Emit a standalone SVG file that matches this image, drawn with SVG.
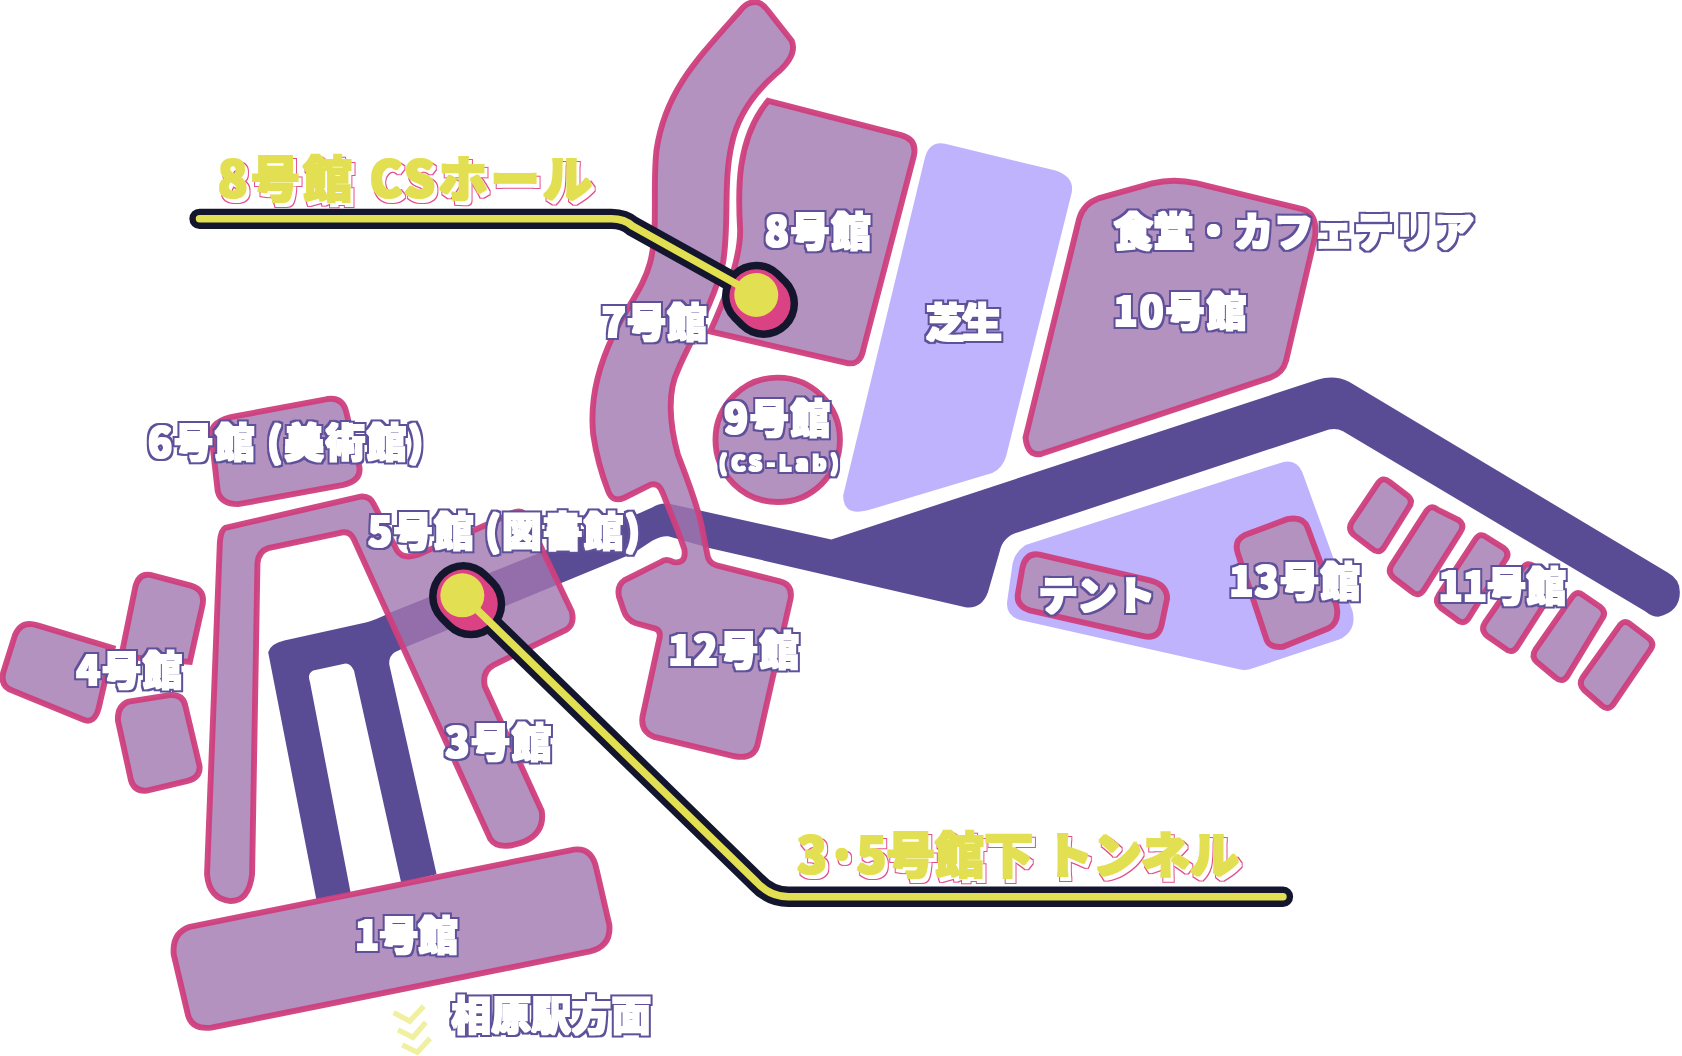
<svg xmlns="http://www.w3.org/2000/svg" width="1682" height="1056" viewBox="0 0 1682 1056">
<defs>
<style>
.b{fill:#a177b0;fill-opacity:.8;stroke:#cf3f7d;stroke-opacity:.95;stroke-width:5.500}
.solid{fill:#b492c0;fill-opacity:1}
.road{fill:#5a4c94}
.lawn{fill:#bfb3fd}
text{font-family:"Noto Sans CJK JP","Noto Sans",sans-serif;font-weight:900}
.l{fill:#fff;font-size:37px;filter:url(#fl)}
.y{fill:#e3df52;font-size:46px;filter:url(#fy)}
.s{font-size:20px}
.ld{fill:none;stroke:#14162e;stroke-width:19;stroke-linecap:round;stroke-linejoin:round}
.li{fill:none;stroke:#e3df52;stroke-width:7;stroke-linecap:round;stroke-linejoin:round}
.cv{fill:none;stroke:#f1f0a0;stroke-width:5}
</style>
<filter id="fl" x="-15%" y="-30%" width="130%" height="170%" color-interpolation-filters="sRGB">
<feMorphology in="SourceAlpha" operator="dilate" radius="0.900" result="a"/>
<feMorphology in="SourceAlpha" operator="dilate" radius="3" result="b"/>
<feFlood flood-color="#5e5099"/><feComposite in2="b" operator="in" result="p"/>
<feFlood flood-color="#fff"/><feComposite in2="a" operator="in" result="w"/>
<feMerge><feMergeNode in="p"/><feMergeNode in="w"/></feMerge>
</filter>
<filter id="fy" x="-10%" y="-30%" width="120%" height="170%" color-interpolation-filters="sRGB">
<feMorphology in="SourceAlpha" operator="dilate" radius="1.200" result="a"/>
<feOffset in="SourceAlpha" dx="2.500" dy="3.500" result="o"/>
<feMorphology in="o" operator="dilate" radius="1.200" result="o1"/>
<feMorphology in="o" operator="dilate" radius="2.200" result="o2"/>
<feFlood flood-color="#e2508c"/><feComposite in2="o2" operator="in" result="p"/>
<feFlood flood-color="#fff"/><feComposite in2="o1" operator="in" result="w"/>
<feFlood flood-color="#e3df52"/><feComposite in2="a" operator="in" result="g"/>
<feMerge><feMergeNode in="p"/><feMergeNode in="w"/><feMergeNode in="g"/></feMerge>
</filter>
</defs>
<g transform="scale(1.0727)">
<g id="grounds">
<path id="lawn-main" class="lawn" d="M881,134 L984,159 Q1002,165 999,180 L938,425 Q935,436 925,441 L808,476 Q786,481 786,462 L862,148 Q866,131 881,134 Z"/>
<path id="lawn-tent" class="lawn" d="M1192,432 Q1208,426 1214,440 L1261,570 Q1265,588 1249,596 L1165,624 Q1160,625 1155,624 L951,578 Q937,574 939,560 L944,525 Q946,515 956,508 Z"/>
<path id="road" class="road" d="M250,608 Q252,600 265,597 L342,580 Q350,578 364,571 L597,478 L608,473 Q616,468 626,470 L775,503 L1228,354 Q1244,349 1258,356 L1555,534 Q1566,540 1566,552 Q1566,570 1546,575 Q1540,575 1534,570 L1252,402 Q1244,398 1234,402 L950,496 Q935,500 932,514 L921,552 Q915,568 900,566 L662,511 L623,500 Q618,499 608,504 L590,516 L379,603 L368,608 Q362,612 363,620 L407,815 L374,823 L330,625 Q326,617 320,619 L292,625 Q286,628 289,636 L327,833 L295,839 Z"/>
</g>
<g id="b7-12">
<path class="b" d="M704,2 Q696,2 690,10 C650,55 620,85 612,140 C608,175 614,215 606,245 C600,268 585,285 572,312 C556,345 550,375 553,405 C556,425 562,445 567,458 Q571,469 582,464 L606,452 Q614,449 618,460 L632,495 L638,512 Q640,526 628,524 Q621,520 616,524 L582,541 Q575,546 577,556 L581,568 Q584,578 593,581 L611,586 Q616,588 615,594 L599,668 Q597,682 610,687 L685,705 Q702,708 706,695 L737,558 Q739,545 727,542 L668,527 Q660,525 659,515 L654,490 C650,470 640,445 632,424 C624,395 622,365 632,345 C642,320 665,285 674,245 C680,210 674,170 682,135 C688,105 705,85 722,70 Q744,52 738,38 L716,10 Q710,2 704,2 Z"/>
</g>
<g id="b8">
<path class="b" d="M716,94 L840,126 Q855,130 852,145 L805,325 Q802,342 788,338 L662,309 C680,270 690,240 690,215 C688,180 686,130 716,94 Z"/>
</g>
<g id="b9"><ellipse class="b" cx="725" cy="410" rx="58" ry="58"/></g>
<g id="b10">
<path class="b" d="M1024,185 L1074,171 Q1094,166 1116,171 L1214,195 Q1228,199 1226,220 L1199,336 Q1196,348 1184,352 L971,423 Q958,426 956,408 L1006,204 Q1010,190 1024,185 Z"/>
</g>
<g id="b6">
<path class="b" d="M220,388 L305,372 Q320,370 323,385 L335,435 Q337,448 320,452 L222,470 Q206,470 203,458 L197,405 Q197,392 220,388 Z"/>
</g>
<g id="b3-5">
<path class="b" d="M210,492 L336,463 Q345,462 349,471 L370,513 Q376,522 390,517 L454,489 L478,478 Q488,474 492,484 L533,570 Q536,582 528,587 L460,620 Q449,626 452,640 L505,756 Q508,775 490,784 Q465,794 457,782 L330,503 Q326,494 316,497 L250,511 Q241,514 240,525 L235,815 Q232,840 215,840 Q195,838 193,815 L205,505 Q206,494 210,492 Z"/>
</g>
<g id="b1">
<path class="b" d="M177,864 L535,792 Q552,790 556,810 L568,862 Q570,882 550,887 L197,958 Q178,960 175,945 L162,890 Q160,870 177,864 Z"/>
</g>
<g id="b4">
<path class="b" d="M140,536 L178,546 Q191,550 189,563 L177,617 L113,612 L126,548 Q129,534 140,536 Z"/>
<path class="b" d="M35,583 L105,604 L92,660 Q88,675 78,671 L12,644 Q0,640 3,627 L14,592 Q20,578 35,583 Z"/>
<path class="b" d="M120,654 L158,648 Q171,647 173,659 L186,714 Q187,725 175,728 L137,737 Q125,738 122,727 L110,672 Q109,658 120,654 Z"/>
</g>
<g id="tent">
<path class="b solid" d="M969,517 L1072,541 Q1088,545 1088,558 L1083,582 Q1080,596 1066,593 L960,569 Q947,565 949,553 L953,530 Q956,515 969,517 Z"/>
</g>
<g id="b13">
<path class="b solid" d="M1200,484 Q1215,481 1219,492 L1246,565 Q1249,580 1238,586 L1196,603 Q1184,604 1181,597 L1154,516 Q1150,504 1160,499 Z"/>
</g>
<g id="b11">
<path class="b" d="M1295,449 L1312,462 Q1318,467 1313,473.500 L1290,510.500 Q1285,517 1279,511.500 L1262,498.500 Q1256,493 1260.500,486.300 L1284.500,450.700 Q1289,444 1295,449 Z"/>
<path class="b" d="M1340,475 L1360,485 Q1366,490 1361,496.500 L1327,550.500 Q1322,557 1316,551.500 L1299,538.500 Q1293,533 1297.500,526.300 L1329.500,476.700 Q1334,470 1340,475 Z"/>
<path class="b" d="M1386,501 L1402,511 Q1408,516 1403,522.500 L1369,576.500 Q1364,583 1358,577.500 L1343,566.500 Q1337,561 1341.500,554.300 L1375.500,502.700 Q1380,496 1386,501 Z"/>
<path class="b" d="M1430,528 L1447,539 Q1453,544 1448,550.500 L1414,603.500 Q1409,610 1403,604.500 L1386,592.500 Q1380,587 1384.500,580.300 L1419.500,529.700 Q1424,523 1430,528 Z"/>
<path class="b" d="M1476,555 L1492,566 Q1498,571 1493,577.500 L1461,630.500 Q1456,637 1450,631.500 L1433,617.500 Q1427,612 1431.500,605.300 L1465.500,556.700 Q1470,550 1476,555 Z"/>
<path class="b" d="M1520,582 L1537,595 Q1543,600 1538,606.500 L1504,656.500 Q1499,663 1493,657.500 L1477,643.500 Q1471,638 1475.500,631.300 L1509.500,583.700 Q1514,577 1520,582 Z"/>
</g>
<g id="direction">
<path class="cv" d="M367,944 L382,952 L395,938"/>
<path class="cv" d="M371,960 L385,967 L397,953"/>
<path class="cv" d="M375,974 L389,981 L401,968"/>
</g>
<g id="connectors">
<path class="ld" d="M186,204 H570 Q582,204 590,211 L705,275"/>
<path class="ld" d="M431,555 L705,822 Q718,836 735,836 H1196"/>
<path d="M705,276 L712,283" fill="none" stroke="#14162e" stroke-width="64" stroke-linecap="round"/>
<path d="M705,276 L712,283" fill="none" stroke="#db4284" stroke-width="50" stroke-linecap="round"/>
<path d="M432,556 L439,563" fill="none" stroke="#14162e" stroke-width="64" stroke-linecap="round"/>
<path d="M432,556 L439,563" fill="none" stroke="#db4284" stroke-width="50" stroke-linecap="round"/>
<path class="li" d="M186,204 H570 Q582,204 590,211 L705,275"/>
<path class="li" d="M431,555 L705,822 Q718,836 735,836 H1196"/>
<circle cx="705" cy="275" r="20.500" fill="#e3df52"/>
<circle cx="431" cy="555" r="20.500" fill="#e3df52"/>
</g>
<g id="labels">
<text class="y" x="203" y="184" textLength="349">8号館 CSホール</text>
<text class="y" x="743" y="814" textLength="412">3·5号館下 トンネル</text>
<text class="l" x="713" y="229" textLength="99">8号館</text>
<text class="l" x="1038" y="229" textLength="336">食堂・カフェテリア</text>
<text class="l" x="1038" y="304" textLength="124">10号館</text>
<text class="l" x="561" y="314" textLength="98">7号館</text>
<text class="l" x="863" y="314" textLength="71">芝生</text>
<text class="l" x="675" y="404" textLength="99">9号館</text>
<text class="l s" x="670" y="439" textLength="112">(CS-Lab)</text>
<text class="l" x="138" y="426" textLength="257">6号館 (美術館)</text>
<text class="l" x="343" y="509" textLength="254">5号館 (図書館)</text>
<text class="l" x="71" y="639" textLength="99">4号館</text>
<text class="l" x="415" y="706" textLength="99">3号館</text>
<text class="l" x="623" y="620" textLength="122">12号館</text>
<text class="l" x="1146" y="556" textLength="122">13号館</text>
<text class="l" x="968" y="569" textLength="109">テント</text>
<text class="l" x="1341" y="560" textLength="119">11号館</text>
<text class="l" x="331" y="886" textLength="96">1号館</text>
<text class="l" x="421" y="960" textLength="186">相原駅方面</text>
</g>
</g>
</svg>
